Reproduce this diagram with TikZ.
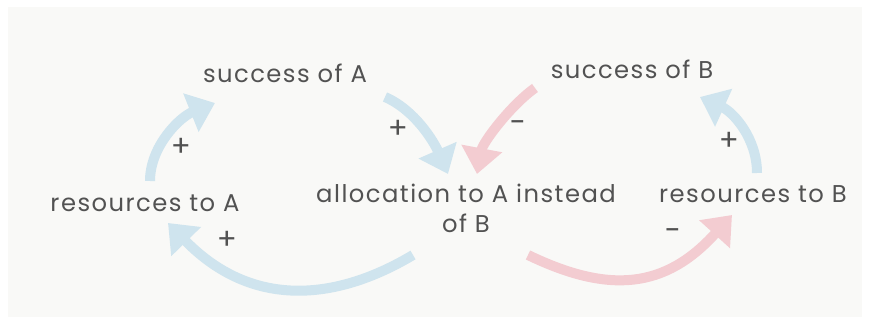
\documentclass[tikz,border=0pt]{standalone}
\usepackage{fontspec}
\setmainfont[LetterSpace=6]{Poppins}
\usetikzlibrary{arrows.meta}
\definecolor{txt}{HTML}{525252}
\definecolor{panel}{HTML}{F9F9F7}
\definecolor{linkA}{HTML}{CFE4EE}
\definecolor{linkB}{HTML}{F3CCD1}

\begin{document}
\begin{tikzpicture}[x=0.75pt,y=-0.75pt,
  var/.style={text=txt,font=\fontsize{18.2}{22.5}\selectfont,inner sep=0pt,align=center},
  sign/.style={text=txt,font=\fontsize{22}{24}\selectfont,inner sep=0pt},
  link/.style={draw=#1,line width=7.5pt,-{Triangle[width=30pt,length=19.5pt]}}]
  % page and panel
  \useasboundingbox (0,0) rectangle (869,324);
  \fill[white] (0,0) rectangle (869,324);
  \fill[panel] (8,7) rectangle (862,317);
  % ---- variables
  \node[var] (sucA) at (285,73) {success of A};
  \node[var] (sucB) at (632,69) {success of B};
  \node[var] (resA) at (145,203) {resources to A};
  \node[var] (alloc) at (466,208) {allocation to A instead\\of B};
  \node[var] (resB) at (753,194) {resources to B};
  % ---- links
  \draw[link=linkA] ([shift={(5,-22)}]resA.center) .. controls +(0,-35) and +(-35,14) .. ([shift={(-70,30)}]sucA.center);
  \draw[link=linkA] ([shift={(100,24)}]sucA.center) .. controls +(30,13) and +(-14,-32) .. ([shift={(-18,-34)}]alloc.center);
  \draw[link=linkB] ([shift={(-97,19)}]sucB.center) .. controls +(-24,17) and +(6,-32) .. ([shift={(11,-34)}]alloc.center);
  \draw[link=linkA] ([shift={(-53,47)}]alloc.center) .. controls +(-77,46) and +(84,86) .. ([shift={(23,20)}]resA.center);
  \draw[link=linkB] ([shift={(62,47)}]alloc.center) .. controls +(81,39) and +(-67,74) .. ([shift={(-21,21)}]resB.center);
  \draw[link=linkA] ([shift={(4,-21)}]resB.center) .. controls +(0,-35) and +(33,15) .. ([shift={(68,28)}]sucB.center);
  % ---- polarities
  \node[sign] (p1) at (181,147) {+};
  \node[sign] (p2) at (398,129) {+};
  \node[sign] (p3) at (518,127) {-};
  \node[sign] (p4) at (227,240) {+};
  \node[sign] (p5) at (673,235) {-};
  \node[sign] (p6) at (729,141) {+};
\end{tikzpicture}
\end{document}
